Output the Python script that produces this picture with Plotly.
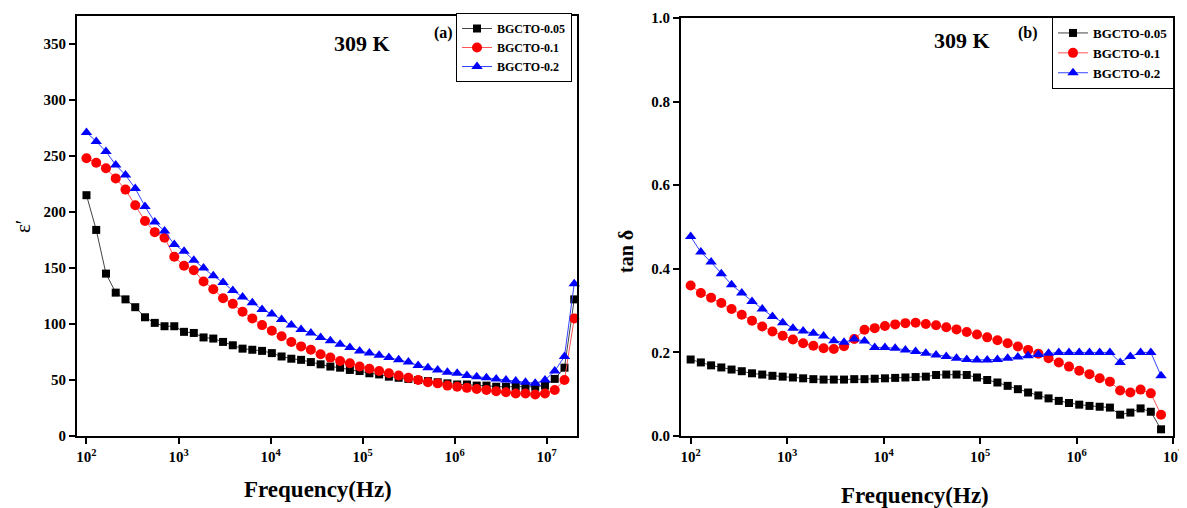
import plotly.graph_objects as go

# ---------------- data ----------------
freq_hz = [100, 127.6, 162.9, 207.9, 265.4, 338.8, 432.5, 552.1, 704.7, 899.5,
           1148, 1466, 1871, 2388, 3048, 3890, 4966, 6339, 8091, 10328,
           13183, 16827, 21478, 27415, 34994, 44668, 57016, 72778, 92897, 118577,
           151356, 193197, 246604, 314775, 401791, 512861, 654636, 835603, 1066596, 1361445,
           1737801, 2218196, 2831392, 3614099, 4613176, 5888437, 7516229, 9594006, 12246162, 15631476,
           19952623]

series_names = ["BGCTO-0.05", "BGCTO-0.1", "BGCTO-0.2"]

eps_005 = [215, 184, 145, 128, 122, 115, 106, 101, 98, 98, 93, 92, 88, 87, 84, 81, 78, 77, 76, 74,
           71, 69, 68, 66, 64, 62, 61, 59, 58, 56, 55, 53, 52, 51, 50, 49, 48, 47, 46, 46,
           45, 45, 44, 44, 44, 44, 44, 45, 51, 61, 122]
eps_01 = [248, 244, 239, 230, 220, 206, 192, 182, 177, 160, 152, 148, 138, 131, 123, 118, 111, 105, 99, 94,
          89, 84, 80, 77, 73, 70, 67, 65, 62, 60, 58, 56, 54, 52, 50, 48, 47, 45, 44, 43,
          42, 41, 40, 39, 38, 38, 37, 38, 41, 50, 105]
eps_02 = [271, 263, 254, 242, 233, 221, 205, 191, 183, 171, 165, 157, 150, 143, 137, 130, 124, 119, 113, 109,
          104, 99, 95, 92, 88, 85, 82, 79, 76, 74, 72, 70, 68, 66, 63, 61, 59, 57, 56, 54,
          53, 52, 51, 50, 49, 48, 47, 50, 58, 71, 136]

tan_005 = [0.183, 0.176, 0.169, 0.164, 0.159, 0.155, 0.150, 0.147, 0.144, 0.142, 0.140, 0.138, 0.136, 0.135,
           0.135, 0.135, 0.136, 0.136, 0.137, 0.138, 0.139, 0.140, 0.141, 0.142, 0.146, 0.147, 0.147, 0.146,
           0.140, 0.134, 0.128, 0.120, 0.112, 0.104, 0.097, 0.090, 0.084, 0.079, 0.075, 0.072, 0.070, 0.068,
           0.051, 0.056, 0.066, 0.058, 0.016]
tan_01 = [0.360, 0.342, 0.331, 0.318, 0.304, 0.290, 0.276, 0.262, 0.250, 0.240, 0.231, 0.222, 0.216, 0.210,
          0.208, 0.215, 0.232, 0.254, 0.258, 0.263, 0.267, 0.270, 0.271, 0.268, 0.265, 0.260, 0.255, 0.249,
          0.243, 0.236, 0.229, 0.222, 0.214, 0.206, 0.197, 0.186, 0.176, 0.166, 0.156, 0.148, 0.138, 0.130,
          0.109, 0.104, 0.111, 0.102, 0.051]
tan_02 = [0.477, 0.440, 0.416, 0.388, 0.362, 0.342, 0.322, 0.304, 0.286, 0.271, 0.258, 0.251, 0.246, 0.239,
          0.228, 0.224, 0.232, 0.227, 0.212, 0.212, 0.210, 0.206, 0.202, 0.198, 0.194, 0.190, 0.186, 0.183,
          0.182, 0.182, 0.183, 0.186, 0.189, 0.192, 0.195, 0.198, 0.200, 0.200, 0.200, 0.200, 0.200, 0.200,
          0.176, 0.190, 0.200, 0.200, 0.144]

x_tick_vals = [1e2, 1e3, 1e4, 1e5, 1e6, 1e7]
x_tick_text = ["10<sup>2</sup>", "10<sup>3</sup>", "10<sup>4</sup>", "10<sup>5</sup>", "10<sup>6</sup>", "10<sup>7</sup>"]
eps_ticks = [0, 50, 100, 150, 200, 250, 300, 350]
tan_ticks = [0.0, 0.2, 0.4, 0.6, 0.8, 1.0]

# ---------------- style ----------------
PAGE_W, PAGE_H = 1187, 508
BODY = 8  # default page margin of the html body
W, H = PAGE_W - BODY, PAGE_H - BODY
SERIF = "Liberation Serif"
marker_symbols = ["square", "circle", "triangle-up"]
marker_colors = ["#000000", "#ff0000", "#0000ff"]
line_colors = ["#444444", "#ff5555", "#3344ff"]
marker_sizes = [8, 10, 10]

def px(x):  # page pixel -> paper fraction
    return (x - BODY) / W

def py(y):
    return 1 - (y - BODY) / H

L_dom_x = [px(77), px(577)]
R_dom_x = [px(681), px(1173)]
L_dom_y = [py(436), py(16)]
R_dom_y = [py(436), py(18)]

fig = go.Figure()

eps_sets = [eps_005, eps_01, eps_02]
tan_sets = [tan_005, tan_01, tan_02]
n_tan = len(tan_005)

for k in range(3):
    fig.add_trace(go.Scatter(
        x=freq_hz, y=eps_sets[k], mode="lines+markers", name=series_names[k],
        xaxis="x", yaxis="y", legend="legend", cliponaxis=False,
        line=dict(color=line_colors[k], width=1),
        marker=dict(symbol=marker_symbols[k], color=marker_colors[k], size=marker_sizes[k], line=dict(width=0)),
    ))
for k in range(3):
    fig.add_trace(go.Scatter(
        x=freq_hz[:n_tan], y=tan_sets[k], mode="lines+markers", name=series_names[k],
        xaxis="x2", yaxis="y2", legend="legend2", cliponaxis=False,
        line=dict(color=line_colors[k], width=1),
        marker=dict(symbol=marker_symbols[k], color=marker_colors[k], size=marker_sizes[k], line=dict(width=0)),
    ))

tick_font = dict(family=SERIF, size=15, color="black", weight="bold")
axis_common = dict(showline=True, linecolor="black", linewidth=2, mirror=True,
                   ticks="outside", ticklen=6, tickwidth=2, tickcolor="black",
                   showgrid=False, zeroline=False, tickfont=tick_font, automargin=False)

legend_common = dict(xanchor="right", yanchor="top", bgcolor="white", bordercolor="black",
                     borderwidth=1, tracegroupgap=0, itemwidth=30)

fig.update_layout(
    width=W, height=H, margin=dict(l=0, r=0, t=0, b=0, autoexpand=False),
    paper_bgcolor="white", plot_bgcolor="white",
    xaxis=dict(domain=L_dom_x, type="log", range=[1.897, 7.33], anchor="y",
               tickvals=x_tick_vals, ticktext=x_tick_text, **axis_common),
    yaxis=dict(domain=L_dom_y, range=[0, 375], anchor="x", tickvals=eps_ticks, **axis_common),
    xaxis2=dict(domain=R_dom_x, type="log", range=[1.90, 7.0], anchor="y2",
                tickvals=x_tick_vals, ticktext=x_tick_text, **axis_common),
    yaxis2=dict(domain=R_dom_y, range=[0, 1.0], anchor="x2", tickvals=tan_ticks, tickformat=".1f", **axis_common),
    legend=dict(x=px(572), y=py(13),
                font=dict(family=SERIF, size=12, color="black", weight="bold"), **legend_common),
    legend2=dict(x=px(1174), y=py(17),
                 font=dict(family=SERIF, size=13, color="black", weight="bold"), **legend_common),
    showlegend=True,
)

ann_font_big = dict(family=SERIF, size=22, color="black", weight="bold")
ann_font_mid = dict(family=SERIF, size=16, color="black", weight="bold")
title_font = dict(family=SERIF, size=23, color="black", weight="bold")
annotations = [
    dict(text="309 K", x=px(362), y=py(43), font=ann_font_big),
    dict(text="(a)", x=px(444), y=py(33), font=ann_font_mid),
    dict(text="309 K", x=px(962), y=py(40), font=ann_font_big),
    dict(text="(b)", x=px(1028), y=py(33), font=ann_font_mid),
    dict(text="Frequency(Hz)", x=px(318), y=py(489), font=title_font),
    dict(text="Frequency(Hz)", x=px(915), y=py(495), font=title_font),
    dict(text="ε′", x=px(23), y=py(226), textangle=-90, font=dict(family=SERIF, size=21, color="black")),
    dict(text="tan δ", x=px(626), y=py(252), textangle=-90, font=dict(family=SERIF, size=20, color="black", weight="bold")),
]
for a in annotations:
    a.update(xref="paper", yref="paper", showarrow=False, xanchor="center", yanchor="middle")
fig.update_layout(annotations=annotations)

fig.write_html("out.html")
